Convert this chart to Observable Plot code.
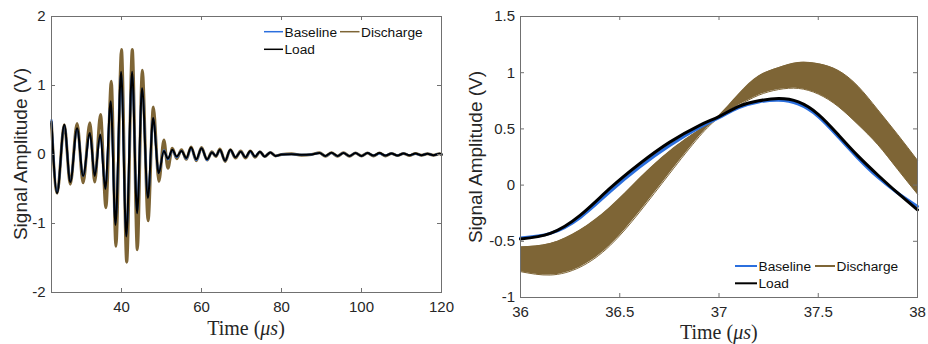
<!DOCTYPE html>
<html><head><meta charset="utf-8">
<script src="https://cdn.jsdelivr.net/npm/d3@7"></script>
<script src="https://cdn.jsdelivr.net/npm/@observablehq/plot@0.6"></script>
<style>
body{margin:0;background:#fff}
#wrap{display:flex;width:928px;height:344px;background:#fff}
#wrap svg{display:block}
</style>
</head><body><div id="wrap"></div>
<script>
// ---------- data: left panel (full waveform) ----------
const leftTime = [22.5, 23.9, 25.7, 27.2, 28.9, 30.4, 32.1, 33.3, 34.7, 35.95, 37.3, 38.5, 39.9, 41.2, 42.65, 43.9, 45.15, 46.6, 47.9, 49.3,
  50.6, 51.6, 52.7, 53.8, 55.0, 56.2, 57.4, 58.7, 60.0, 61.4, 62.6, 63.6, 64.6, 65.9, 67.2, 68.5, 69.8, 71.0, 72.2, 73.4, 74.6, 75.8, 77.2, 78.5,
  80.0, 82.5, 85.0, 87.5, 89.5, 91.0, 92.5, 94.0, 95.5, 97.0, 98.5, 100.0, 101.5, 103.0, 104.5, 106.0, 107.5, 109.0, 110.5, 112.0, 113.5, 115.0, 116.5, 118.0, 119.5, 120];
const leftLoad = [0.48, -0.56, 0.43, -0.40, 0.38, -0.31, 0.31, -0.31, 0.29, -0.50, 0.77, -1.02, 1.20, -1.19, 1.20, -0.85, 0.96, -0.63, 0.53, -0.27,
  0.05, -0.06, 0.07, -0.03, 0.05, -0.05, 0.10, -0.07, 0.09, -0.07, 0.03, -0.02, 0.07, -0.09, 0.07, -0.04, 0.04, -0.04, 0.05, -0.03, 0.04, -0.03, 0.03, -0.02,
  0.0, 0.005, -0.005, 0.0, 0.02, -0.02, 0.025, -0.02, 0.02, -0.02, 0.02, -0.02, 0.02, -0.015, 0.02, -0.015, 0.015, -0.015, 0.015, -0.01, 0.015, -0.01, 0.01, -0.01, 0.01, 0];
const leftBaseline = [0.50, -0.55, 0.42, -0.39, 0.37, -0.31, 0.30, -0.30, 0.28, -0.49, 0.755, -1.00, 1.18, -1.17, 1.18, -0.84, 0.95, -0.62, 0.52, -0.27,
  0.06, -0.07, 0.06, -0.04, 0.05, -0.06, 0.09, -0.08, 0.09, -0.08, 0.03, -0.02, 0.06, -0.09, 0.06, -0.04, 0.04, -0.04, 0.04, -0.03, 0.04, -0.03, 0.03, -0.02,
  0.0, 0.005, -0.005, 0.0, 0.02, -0.02, 0.02, -0.02, 0.02, -0.02, 0.02, -0.02, 0.02, -0.015, 0.015, -0.015, 0.015, -0.015, 0.015, -0.01, 0.01, -0.01, 0.01, -0.01, 0.01, 0];
const leftDischargeTime = [22.5, 23.9, 25.7, 27.2, 28.9, 30.4, 32.1, 33.3, 34.75, 36.1, 37.45, 38.6, 40.0, 41.3, 42.7, 43.95, 45.2, 46.65, 47.95, 49.35,
  50.6, 51.6, 52.7, 53.8, 55.0, 56.2, 57.4, 58.7, 60.0, 61.4, 62.6, 63.6, 64.6, 65.9, 67.2, 68.5, 69.8, 71.0, 72.2, 73.4, 74.6, 75.8, 77.2, 78.5,
  80.0, 82.5, 85.0, 87.5, 89.5, 91.0, 92.5, 94.0, 95.5, 97.0, 98.5, 100.0, 101.5, 103.0, 104.5, 106.0, 107.5, 109.0, 110.5, 112.0, 113.5, 115.0, 116.5, 118.0, 119.5, 120];
const leftDischarge = [0.45, -0.56, 0.43, -0.43, 0.45, -0.41, 0.46, -0.40, 0.58, -0.77, 1.06, -1.33, 1.52, -1.56, 1.52, -1.38, 1.22, -0.96, 0.69, -0.39,
  0.21, -0.20, 0.09, -0.06, 0.07, -0.07, 0.11, -0.09, 0.10, -0.08, 0.04, -0.03, 0.08, -0.10, 0.07, -0.05, 0.05, -0.05, 0.05, -0.04, 0.04, -0.03, 0.03, -0.02,
  0.0, 0.01, -0.01, 0.0, 0.025, -0.025, 0.025, -0.025, 0.025, -0.025, 0.02, -0.02, 0.02, -0.02, 0.02, -0.02, 0.015, -0.015, 0.015, -0.015, 0.015, -0.01, 0.01, -0.01, 0.01, 0];
const leftXTicks = [40, 60, 80, 100, 120];
const leftYTicks = [-2, -1, 0, 1, 2];

// ---------- data: right panel (zoom 36–38 µs) ----------
const rightTime = [36.0, 36.15, 36.3, 36.45, 36.6, 36.75, 36.9, 37.0, 37.1, 37.2, 37.3, 37.4, 37.5, 37.6, 37.7, 37.8, 37.9, 38.0];
const rightLoad = [-0.48, -0.43, -0.27, -0.03, 0.19, 0.38, 0.53, 0.61, 0.70, 0.75, 0.77, 0.74, 0.63, 0.45, 0.26, 0.09, -0.07, -0.22];
const rightBaseline = [-0.47, -0.43, -0.29, -0.06, 0.16, 0.35, 0.51, 0.60, 0.69, 0.74, 0.755, 0.72, 0.61, 0.43, 0.24, 0.07, -0.07, -0.19];
const rightDischargeLow = [-0.77, -0.80, -0.73, -0.54, -0.24, 0.10, 0.43, 0.60, 0.71, 0.80, 0.85, 0.86, 0.81, 0.70, 0.54, 0.36, 0.14, -0.08];
const rightDischargeHigh = [-0.55, -0.52, -0.40, -0.20, 0.06, 0.30, 0.49, 0.62, 0.81, 0.97, 1.045, 1.09, 1.08, 1.02, 0.88, 0.67, 0.45, 0.22];
const rightXTicks = [36, 36.5, 37, 37.5, 38];
const rightYTicks = [-1, -0.5, 0, 0.5, 1, 1.5];

const seriesNames = ["Baseline", "Discharge", "Load"];
const seriesColors = ["#2b6fde", "#7e6536", "#000000"];

// ---------- helpers ----------
const rows = (ts, vs) => ts.map((t, i) => ({t, v: vs[i]}));
const fmt = d => String(d);
const AX = "#262626";
const FRAME = "#707070";

function boxTicks(xt, yt, innerW, innerH, len) {
  return [
    Plot.tickX(xt, {x: d => d, insetTop: innerH - len, stroke: FRAME}),
    Plot.tickX(xt, {x: d => d, insetBottom: innerH - len, stroke: FRAME}),
    Plot.tickY(yt, {y: d => d, insetLeft: innerW - len, stroke: FRAME}),
    Plot.tickY(yt, {y: d => d, insetRight: innerW - len, stroke: FRAME}),
    Plot.frame({stroke: FRAME})
  ];
}

function decorate(svg, o) {
  const s = d3.select(svg);
  s.append("text")
    .attr("transform", `translate(${o.ylx},${o.yly}) rotate(-90)`)
    .attr("text-anchor", "middle").attr("dy", "0.35em")
    .attr("font-family", "'Liberation Sans', Arial, sans-serif").attr("font-size", 19)
    .attr("fill", AX).text("Signal Amplitude (V)");
  const t = s.append("text")
    .attr("x", o.xlx).attr("y", o.xly).attr("text-anchor", "middle")
    .attr("font-family", "'Liberation Serif', 'Times New Roman', serif").attr("font-size", 20)
    .attr("fill", AX);
  t.append("tspan").text("Time (");
  t.append("tspan").attr("font-style", "italic").text("\u03bcs");
  t.append("tspan").text(")");
  const g = s.append("g")
    .attr("text-anchor", "start")
    .attr("font-family", "'Liberation Sans', Arial, sans-serif").attr("font-size", 13.7).attr("fill", "#111");
  o.legend.forEach((it, i) => {
    g.append("line").attr("x1", it.x1).attr("x2", it.x2).attr("y1", it.y).attr("y2", it.y)
      .attr("stroke", seriesColors[i]).attr("stroke-width", o.legendWidth);
    g.append("text").attr("x", it.x2 + 1.5).attr("y", it.y).attr("dy", "0.36em")
      .attr("text-anchor", "start").text(seriesNames[i]);
  });
}

// ---------- left panel ----------
const L = {w: 460, h: 344, ml: 51, mr: 19, mt: 16, mb: 52};
const leftPlot = Plot.plot({
  width: L.w, height: L.h, marginLeft: L.ml, marginRight: L.mr, marginTop: L.mt, marginBottom: L.mb,
  style: {fontFamily: "'Liberation Sans', Arial, sans-serif", fontSize: "15px", color: AX, background: "#fff"},
  x: {domain: [22.5, 120]},
  y: {domain: [-2, 2]},
  marks: [
    Plot.axisX({ticks: leftXTicks, tickSize: 0, tickPadding: 9, label: null, tickFormat: fmt}),
    Plot.axisY({ticks: leftYTicks, tickSize: 0, tickPadding: 6, label: null, tickFormat: fmt}),
    Plot.line(rows(leftDischargeTime, leftDischarge), {x: "t", y: "v", stroke: seriesColors[1], strokeWidth: 3, curve: "monotone-x"}),
    Plot.line(rows(leftTime, leftBaseline), {x: "t", y: "v", stroke: seriesColors[0], strokeWidth: 2, curve: "monotone-x"}),
    Plot.line(rows(leftTime, leftLoad), {x: "t", y: "v", stroke: seriesColors[2], strokeWidth: 2, curve: "monotone-x"}),
    ...boxTicks(leftXTicks, leftYTicks, L.w - L.ml - L.mr, L.h - L.mt - L.mb, 4)
  ]
});
decorate(leftPlot, {
  ylx: 20.7, yly: 154, xlx: 246, xly: 335, legendWidth: 1.5,
  legend: [
    {x1: 264, x2: 283, y: 31.7},
    {x1: 340, x2: 359.5, y: 31.7},
    {x1: 264, x2: 283, y: 49.3}
  ]
});

// ---------- right panel ----------
const R = {w: 468, h: 344, ml: 60, mr: 11, mt: 16, mb: 47};
const band = rightTime.map((t, i) => ({t, lo: rightDischargeLow[i], hi: rightDischargeHigh[i]}));
const rightPlot = Plot.plot({
  width: R.w, height: R.h, marginLeft: R.ml, marginRight: R.mr, marginTop: R.mt, marginBottom: R.mb,
  style: {fontFamily: "'Liberation Sans', Arial, sans-serif", fontSize: "15px", color: AX, background: "#fff"},
  x: {domain: [36, 38]},
  y: {domain: [-1, 1.5]},
  marks: [
    Plot.axisX({ticks: rightXTicks, tickSize: 0, tickPadding: 9, label: null, tickFormat: fmt}),
    Plot.axisY({ticks: rightYTicks, tickSize: 0, tickPadding: 5.5, label: null, tickFormat: fmt}),
    Plot.areaY(band, {x: "t", y1: "lo", y2: "hi", fill: seriesColors[1], curve: "natural"}),
    Plot.line(band, {x: "t", y: "lo", stroke: seriesColors[1], strokeWidth: 1, curve: "natural"}),
    Plot.line(band, {x: "t", y: "hi", stroke: seriesColors[1], strokeWidth: 1, curve: "natural"}),
    Plot.line(rows(rightTime, rightBaseline), {x: "t", y: "v", stroke: seriesColors[0], strokeWidth: 3, curve: "natural"}),
    Plot.line(rows(rightTime, rightLoad), {x: "t", y: "v", stroke: seriesColors[2], strokeWidth: 3, curve: "natural"}),
    ...boxTicks(rightXTicks, rightYTicks, R.w - R.ml - R.mr, R.h - R.mt - R.mb, 4)
  ]
});
decorate(rightPlot, {
  ylx: 15, yly: 157, xlx: 258.8, xly: 339, legendWidth: 2,
  legend: [
    {x1: 275, x2: 297, y: 266},
    {x1: 355, x2: 375, y: 266},
    {x1: 275, x2: 297, y: 283.3}
  ]
});

document.getElementById("wrap").append(leftPlot, rightPlot);
</script></body></html>
